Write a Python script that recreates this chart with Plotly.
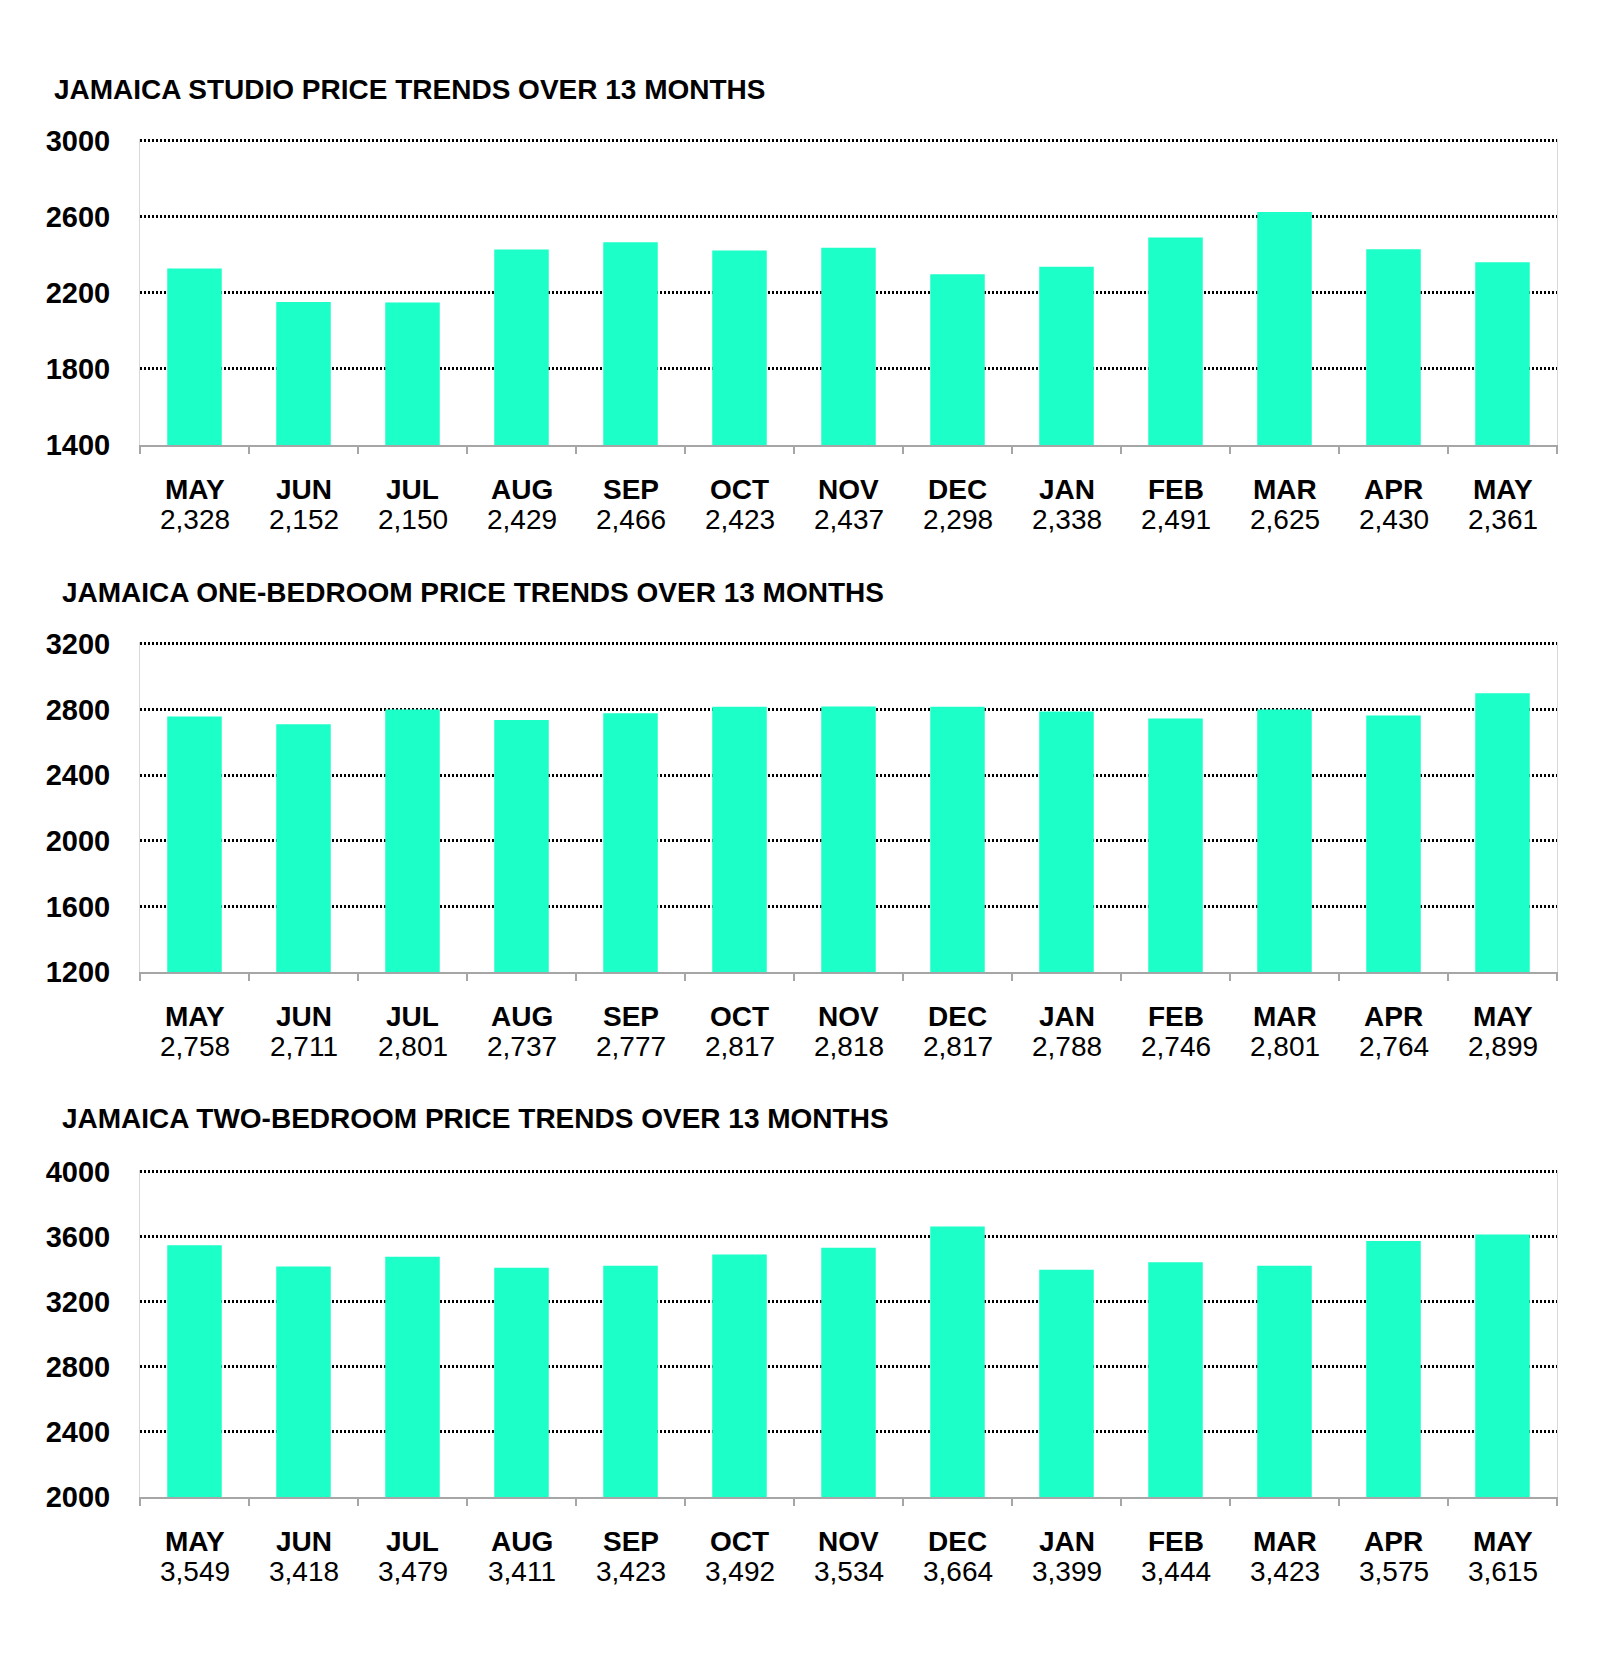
import plotly.graph_objects as go

months = ["MAY", "JUN", "JUL", "AUG", "SEP", "OCT", "NOV", "DEC", "JAN", "FEB", "MAR", "APR", "MAY"]
studio = [2328, 2152, 2150, 2429, 2466, 2423, 2437, 2298, 2338, 2491, 2625, 2430, 2361]
one_bed = [2758, 2711, 2801, 2737, 2777, 2817, 2818, 2817, 2788, 2746, 2801, 2764, 2899]
two_bed = [3549, 3418, 3479, 3411, 3423, 3492, 3534, 3664, 3399, 3444, 3423, 3575, 3615]

titles = [
    "JAMAICA STUDIO PRICE TRENDS OVER 13 MONTHS",
    "JAMAICA ONE-BEDROOM PRICE TRENDS OVER 13 MONTHS",
    "JAMAICA TWO-BEDROOM PRICE TRENDS OVER 13 MONTHS",
]
y_ranges = [(1400, 3000), (1200, 3200), (2000, 4000)]
y_dtick = [400, 400, 400]
series = [studio, one_bed, two_bed]

# page body has an 8px default margin; make the figure fit the window exactly
OFF = 8
W, H = 1600 - 2 * OFF, 1663 - 2 * OFF
FONT = "Liberation Sans, Arial, sans-serif"
BAR = "#1CFFC8"

# target pixel layout in window coordinates (top, bottom) of each plot area
plot_px = [(141, 445), (644, 972), (1172, 1497)]
title_px = [(52, 90, 28), (60, 592, 28), (60, 1118, 28)]
x0, x1 = 140, 1557

def fx(p):
    return (p - OFF) / W

def fy(p):
    return 1 - (p - OFF) / H

fig = go.Figure()
cats = list(range(len(months)))

for i, vals in enumerate(series):
    n = "" if i == 0 else str(i + 1)
    fig.add_trace(go.Bar(
        x=cats, y=vals, marker=dict(color=BAR, line=dict(width=0)),
        xaxis="x" + n, yaxis="y" + n, showlegend=False, hoverinfo="skip",
    ))
    top, bot = plot_px[i]
    fig.layout["xaxis" + n] = dict(
        domain=[fx(x0), fx(x1)], anchor="y" + n, type="linear",
        range=[-0.5, len(months) - 0.5], automargin=False,
        tickvals=[c - 0.5 for c in cats] + [len(months) - 0.5],
        showticklabels=False, ticks="outside", ticklen=7, tickwidth=1.5, tickcolor="#a6a6a6",
        showline=True, linecolor="#a6a6a6", linewidth=2, showgrid=False, zeroline=False,
    )
    lo, hi = y_ranges[i]
    pad = (hi - lo) * 0.006
    fig.layout["yaxis" + n] = dict(
        domain=[fy(bot), fy(top - 2)], anchor="x" + n, automargin=False,
        range=[lo, hi + pad], dtick=y_dtick[i], tick0=lo,
        showgrid=True, gridcolor="#000000", gridwidth=2.5, griddash="2px,2px",
        showline=True, linecolor="#d9d9d9", linewidth=1, mirror=True,
        zeroline=False, ticks="", ticklabelstandoff=23,
        tickfont=dict(family=FONT, size=29, color="black", weight="bold"),
    )
    tx, ty, ts = title_px[i]
    fig.add_annotation(
        text="<b>" + titles[i] + "</b>", xref="paper", yref="paper",
        x=fx(tx), y=fy(ty), xanchor="left", yanchor="middle", showarrow=False,
        font=dict(family=FONT, size=ts, color="black"),
    )
    for c, (m, v) in enumerate(zip(months, vals)):
        fig.add_annotation(
            text="<b>" + m + "</b>", xref="x" + n, yref="y" + n + " domain",
            x=c, y=0, yshift=-44, xanchor="center", yanchor="middle", showarrow=False,
            font=dict(family=FONT, size=28, color="black"),
        )
        fig.add_annotation(
            text=f"{v:,}", xref="x" + n, yref="y" + n + " domain",
            x=c, y=0, yshift=-74, xanchor="center", yanchor="middle", showarrow=False,
            font=dict(family=FONT, size=28, color="black"),
        )

fig.update_layout(
    width=W, height=H, margin=dict(l=0, r=0, t=0, b=0, autoexpand=False),
    paper_bgcolor="white", plot_bgcolor="white",
    bargap=0.5,
)

fig.write_html("out.html")
